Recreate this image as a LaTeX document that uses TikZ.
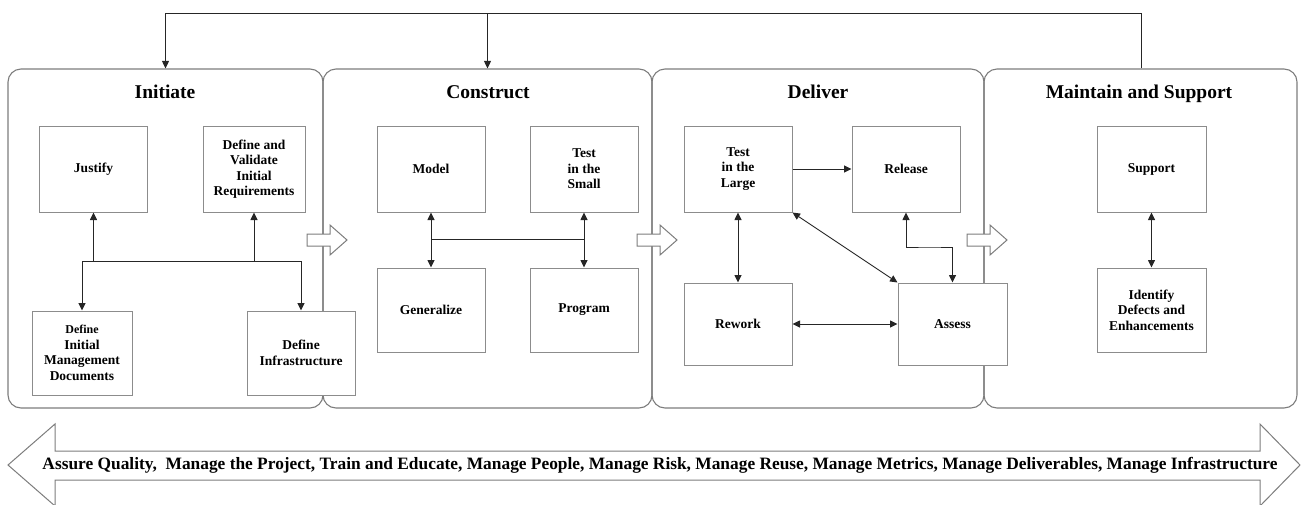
\documentclass[tikz,border=0pt]{standalone}
\usepackage{fontspec}
\usepackage{graphicx}
\setmainfont{Liberation Serif}
\usetikzlibrary{arrows.meta}

\definecolor{framegray}{RGB}{125,125,125}
\definecolor{boxgray}{RGB}{140,140,140}
\newcommand\boxfont{\fontsize{13.5}{15.5}\selectfont\bfseries}
\newcommand\phasefont{\fontsize{19.5}{22}\selectfont\bfseries}

\tikzset{
  >={Triangle[length=7.5pt,width=7pt]},
  panel/.style={draw=framegray, line width=1.1pt, rounded corners=13pt,
    minimum width=#1, minimum height=339pt, inner sep=0pt},
  phasetitle/.style={anchor=base, inner sep=0pt, font=\phasefont},
  stepbox/.style={draw=boxgray, fill=white, line width=1pt,
    minimum width=108pt, minimum height=#1, inner sep=1pt,
    align=center, font=\boxfont},
  stepbox/.default=86pt,
  conn/.style={draw=black!85, line width=0.9pt},
  blockarrow/.pic={
    \draw[draw=framegray, line width=1pt, fill=white]
      (-20,-6) -- (3,-6) -- (3,-15) -- (20,0) -- (3,15) -- (3,6) -- (-20,6) -- cycle;
  }
}

\begin{document}
\begin{tikzpicture}[x=1pt,y=-1pt]
\useasboundingbox (0,0) rectangle (1301,504);

% phase panels
\node[panel=315pt] (pinit) at (165.5,238.5) {};
\node[panel=329pt] (pcons) at (487.5,238.5) {};
\node[panel=332pt] (pdel)  at (818,238.5) {};
\node[panel=313pt] (pmain) at (1140.5,238.5) {};

\node[phasetitle] (tinit) at (165,98)  {Initiate};
\node[phasetitle] (tcons) at (488,98)  {Construct};
\node[phasetitle] (tdel)  at (818,98)  {Deliver};
\node[phasetitle] (tmain) at (1139,98) {Maintain and Support};

% hand-over arrows between phases
\pic at (327,240) {blockarrow};
\pic at (657,240) {blockarrow};
\pic at (987,240) {blockarrow};

% Initiate
\node[stepbox] (just) at (93.5,169) {Justify};
\node[stepbox, minimum width=102pt] (dvir) at (254,169) {Define and\\Validate\\Initial\\Requirements};
\node[stepbox=84pt, minimum width=100pt] (dimd) at (82,353) {{\fontsize{12}{15.5}\selectfont Define}\\Initial\\Management\\Documents};
\node[stepbox=84pt] (dinf) at (301,353) {Define\\Infrastructure};

% Construct
\node[stepbox] (model) at (431,169) {Model};
\node[stepbox] (tits)  at (584,169) {Test\\in the\\Small};
\node[stepbox=84pt] (gen)  at (431,310) {Generalize};
\node[stepbox=84pt] (prog) at (584,310) {Program};

% Deliver
\node[stepbox] (titl) at (738,169) {Test\\in the\\Large};
\node[stepbox] (rel)  at (906,169) {Release};
\node[stepbox=82pt] (rew) at (738,324) {Rework};
\node[stepbox=82pt, minimum width=109pt] (ass) at (952.5,324) {Assess};

% Maintain and Support
\node[stepbox, minimum width=109pt] (sup) at (1151.5,169) {Support};
\node[stepbox=84pt, minimum width=109pt] (idf) at (1151.5,310) {Identify\\Defects and\\Enhancements};

% Initiate connectors
\coordinate (hubL) at (82,261);
\coordinate (hubR) at (301,261);
\draw[conn] (hubL) -- (hubR);
\draw[conn,->] (hubL) -- (dimd.north);
\draw[conn,->] (hubR) -- (dinf.north);
\draw[conn,->] (just.south |- hubL) -- (just.south);
\draw[conn,->] (dvir.south |- hubL) -- (dvir.south);

% Construct connectors
\coordinate (cbar) at (508,239);
\draw[conn] (model.south |- cbar) -- (tits.south |- cbar);
\draw[conn,<->] (model.south) -- (gen.north);
\draw[conn,<->] (tits.south) -- (prog.north);

% Deliver connectors
\draw[conn,->] (titl.east) -- (rel.west);
\draw[conn,<->] (titl.south) -- (rew.north);
\draw[conn,<->] (rew.east) -- (ass.west);
\draw[conn,<->] (titl.south east) -- (ass.north west);
\coordinate (rbend) at (930,247);
\draw[conn,<->] (rel.south) |- (rbend) -| (ass.north);

% Maintain connectors
\draw[conn,<->] (sup.south) -- (idf.north);

% feedback loop over the phases
\coordinate (loopR) at (1141,13);
\coordinate (loopL) at (165.5,13);
\draw[conn,->] (loopR |- pmain.north) -- (loopR) -- (loopL) -- (pinit.north);
\draw[conn,->] (pcons.north |- loopL) -- (pcons.north);

% cross-cutting activities band
\draw[draw=framegray, line width=1pt, fill=white]
  (8,465) -- (55,424) -- (55,451) -- (1260,451) -- (1260,424) -- (1300,465)
  -- (1260,506) -- (1260,480) -- (55,480) -- (55,506) -- cycle;
\node[anchor=base, inner sep=0pt] (band) at (660,469)
  {\resizebox{1235pt}{!}{\bfseries Assure Quality,~ Manage the Project, Train and Educate, Manage People, Manage Risk, Manage Reuse, Manage Metrics, Manage Deliverables, Manage Infrastructure}};
\end{tikzpicture}
\end{document}
